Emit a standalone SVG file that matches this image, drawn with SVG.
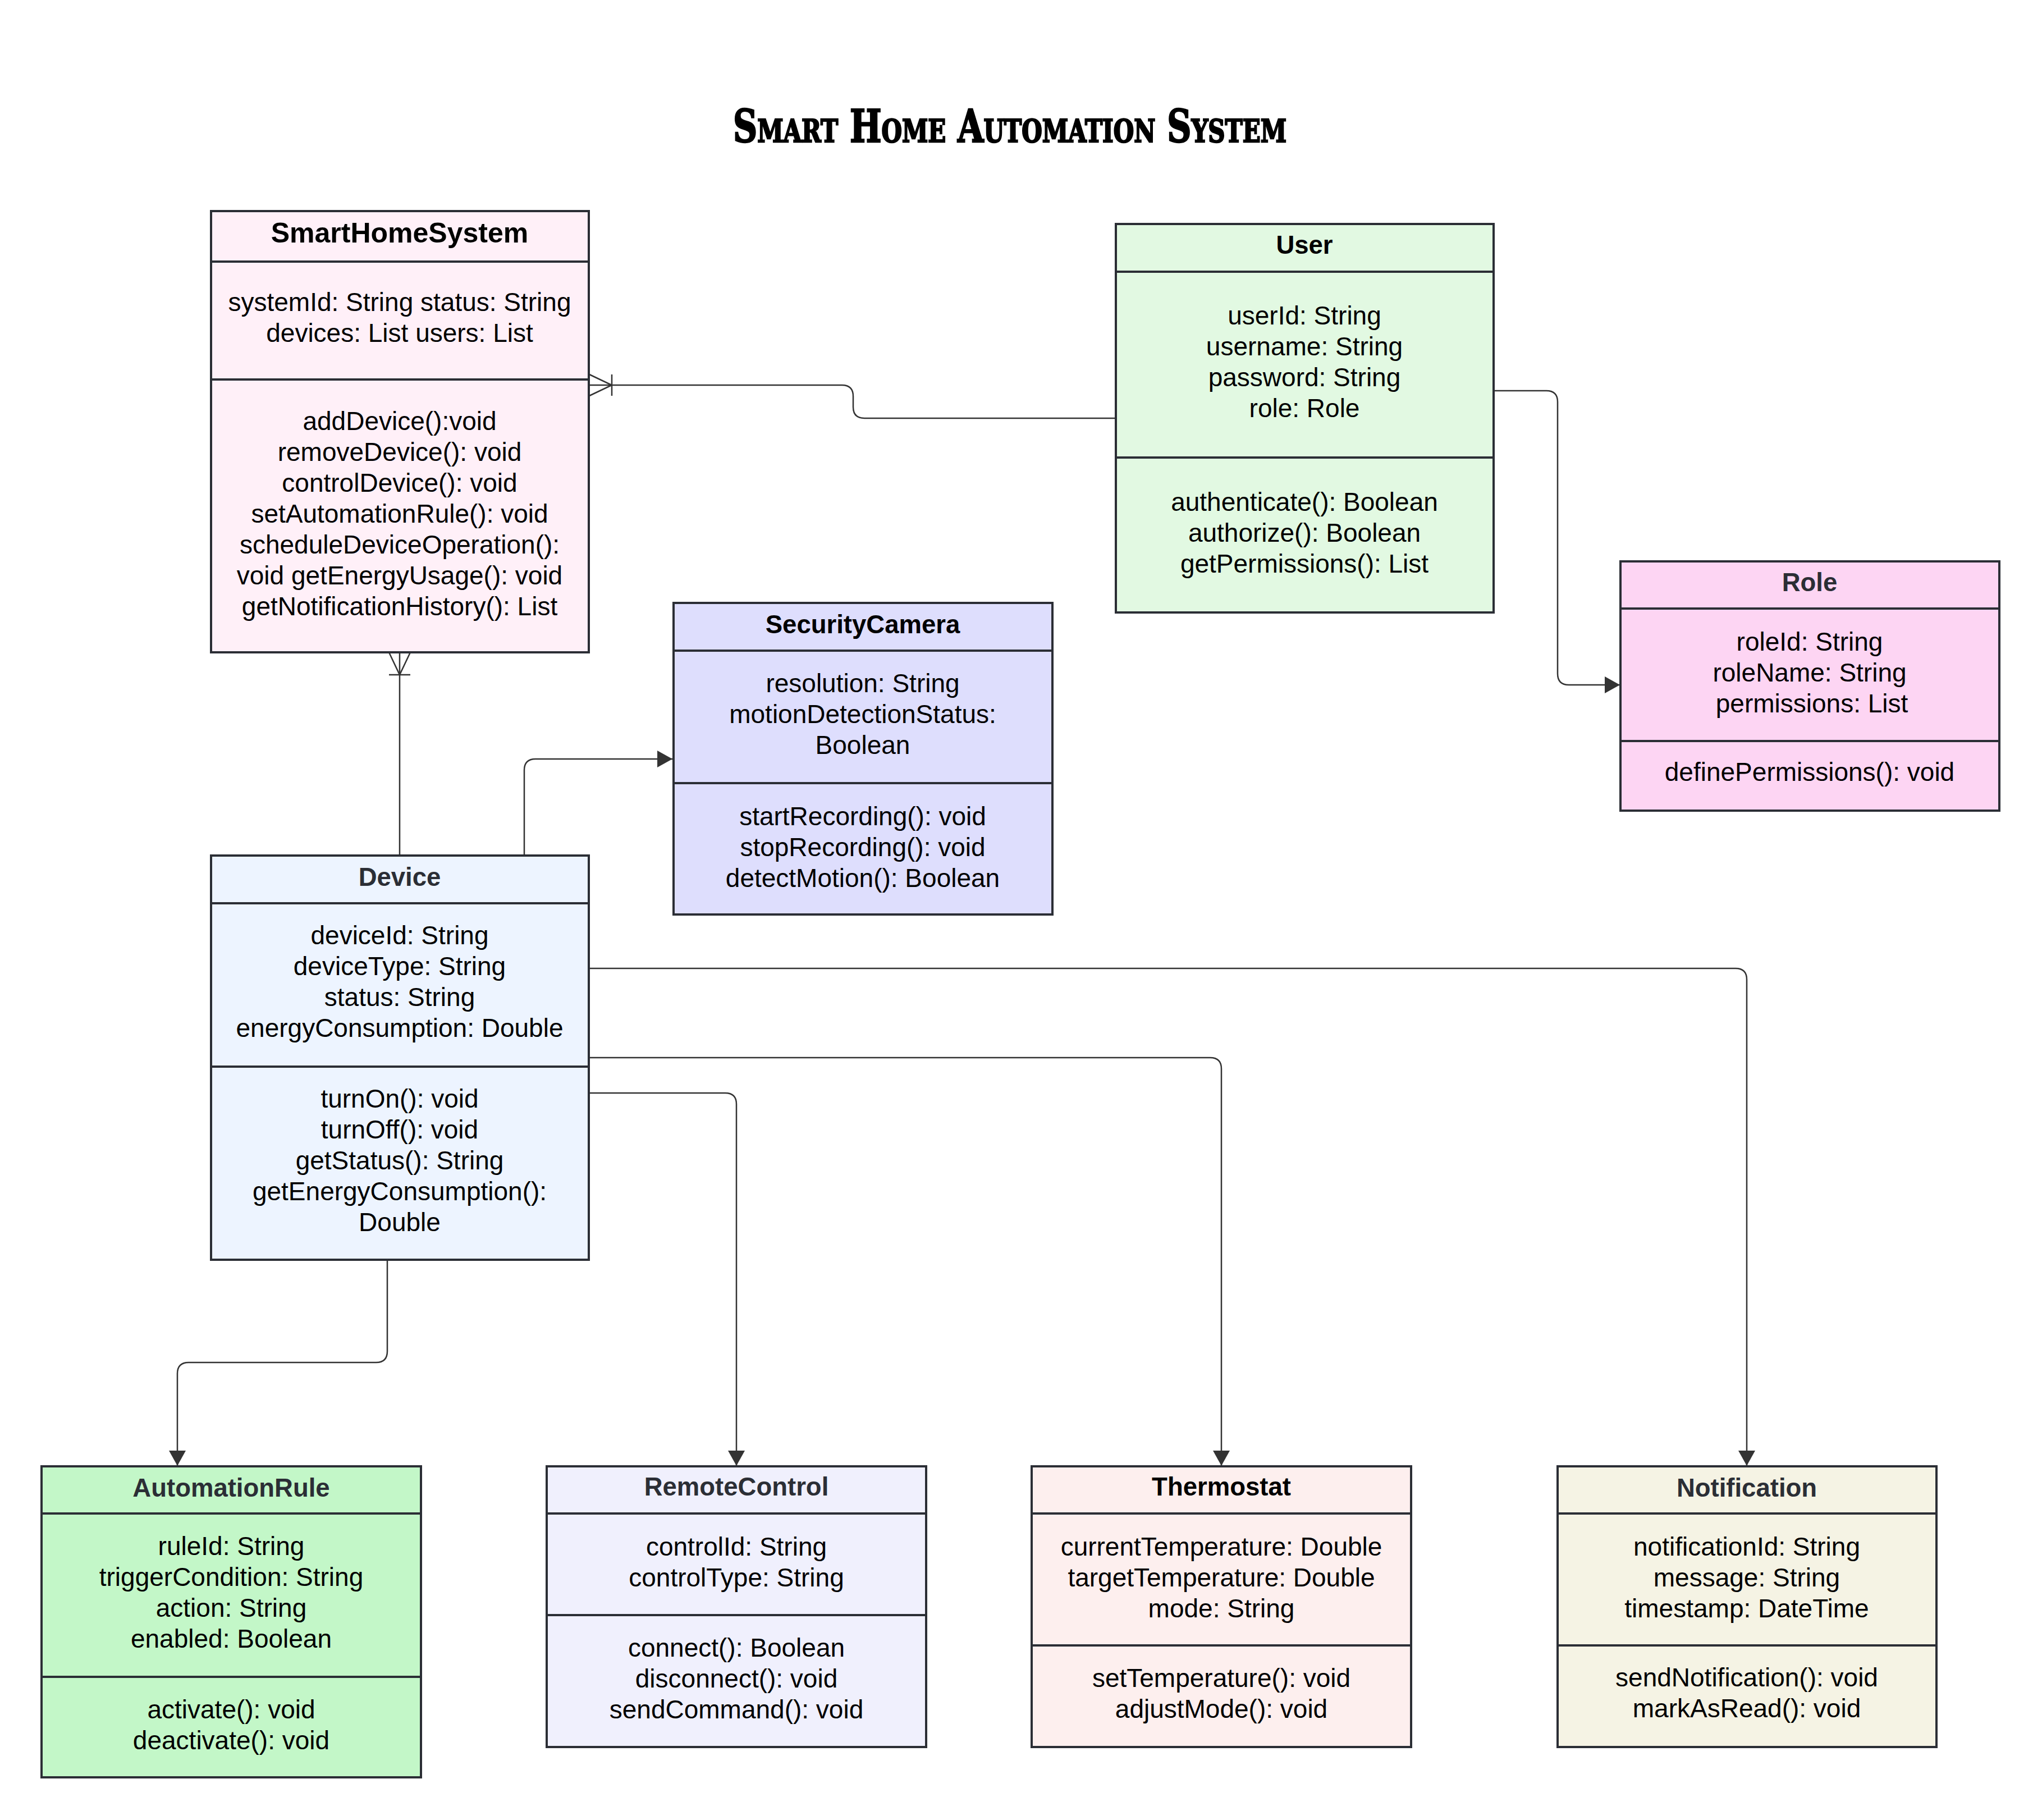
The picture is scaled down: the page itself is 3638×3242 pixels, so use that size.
<svg xmlns="http://www.w3.org/2000/svg" width="3638" height="3242" viewBox="0 0 3638 3242">
<style>
.box{stroke:#2b2e35;stroke-width:4}
.sep{stroke:#2b2e35;stroke-width:4}
.hd{font-family:"Liberation Sans",Arial,sans-serif;font-weight:bold;font-size:45.5px;text-anchor:middle}
.dk{fill:#2b2e35}
.bk{fill:#000}
.big{font-size:50px}
.tx{font-family:"Liberation Sans",Arial,sans-serif;font-size:46px;text-anchor:middle;fill:#000}
.ln{fill:none;stroke:#333;stroke-width:2.5}
.title{font-family:"DejaVu Serif Condensed","DejaVu Serif",serif;font-weight:bold;font-size:80px;font-variant:small-caps;text-anchor:middle;fill:#000;stroke:#000;stroke-width:2.5}
</style>
<defs>
<marker id="arr" markerUnits="userSpaceOnUse" markerWidth="30" markerHeight="32" refX="27" refY="15" orient="auto">
<path d="M0,0 L27,15 L0,30 z" fill="#333"/>
</marker>
</defs>
<rect width="3638" height="3242" fill="#fff"/>
<text class="title" x="1799" y="253" textLength="986" lengthAdjust="spacingAndGlyphs">Smart Home Automation System</text>

<g id="connectors">
<path class="ln" d="M1988,745 H1540 Q1520,745 1520,725 V706 Q1520,686 1500,686 H1050"/>
<path class="ln" d="M1050,667 L1090,686 L1050,705 M1090,667 V705"/>
<path class="ln" d="M712,1162 V1524"/>
<path class="ln" d="M693,1162 L712,1202 L731,1162 M693,1202 H731"/>
<path class="ln" d="M934,1524 V1372 Q934,1352 954,1352 H1198" marker-end="url(#arr)"/>
<path class="ln" d="M2661,696 H2755 Q2775,696 2775,716 V1200 Q2775,1220 2795,1220 H2886" marker-end="url(#arr)"/>
<path class="ln" d="M1050,1725 H3092 Q3112,1725 3112,1745 V2611" marker-end="url(#arr)"/>
<path class="ln" d="M1050,1884 H2156 Q2176,1884 2176,1904 V2611" marker-end="url(#arr)"/>
<path class="ln" d="M1050,1947 H1292 Q1312,1947 1312,1967 V2611" marker-end="url(#arr)"/>
<path class="ln" d="M690,2244 V2407 Q690,2427 670,2427 H336 Q316,2427 316,2447 V2611" marker-end="url(#arr)"/>
</g>

<g id="SmartHomeSystem">
<rect class="box" x="376" y="376" width="673" height="786" fill="#fff0f8"/>
<line class="sep" x1="376" y1="466" x2="1049" y2="466"/>
<line class="sep" x1="376" y1="676" x2="1049" y2="676"/>
<text class="hd bk big" x="712" y="432">SmartHomeSystem</text>
<text class="tx" x="712"><tspan x="712" y="554">systemId: String status: String</tspan><tspan x="712" y="609">devices: List users: List</tspan></text>
<text class="tx" x="712"><tspan x="712" y="766">addDevice():void</tspan><tspan x="712" y="821">removeDevice(): void</tspan><tspan x="712" y="876">controlDevice(): void</tspan><tspan x="712" y="931">setAutomationRule(): void</tspan><tspan x="712" y="986">scheduleDeviceOperation():</tspan><tspan x="712" y="1041">void getEnergyUsage(): void</tspan><tspan x="712" y="1096">getNotificationHistory(): List</tspan></text>
</g>

<g id="User">
<rect class="box" x="1988" y="399" width="673" height="692" fill="#e2f9e2"/>
<line class="sep" x1="1988" y1="484" x2="2661" y2="484"/>
<line class="sep" x1="1988" y1="815" x2="2661" y2="815"/>
<text class="hd bk" x="2324" y="452">User</text>
<text class="tx"><tspan x="2324" y="578">userId: String</tspan><tspan x="2324" y="633">username: String</tspan><tspan x="2324" y="688">password: String</tspan><tspan x="2324" y="743">role: Role</tspan></text>
<text class="tx"><tspan x="2324" y="910">authenticate(): Boolean</tspan><tspan x="2324" y="965">authorize(): Boolean</tspan><tspan x="2324" y="1020">getPermissions(): List</tspan></text>
</g>

<g id="Role">
<rect class="box" x="2887" y="1000" width="675" height="444" fill="#fdd5f3"/>
<line class="sep" x1="2887" y1="1084" x2="3562" y2="1084"/>
<line class="sep" x1="2887" y1="1320" x2="3562" y2="1320"/>
<text class="hd dk" x="3224" y="1053">Role</text>
<text class="tx"><tspan x="3224" y="1159">roleId: String</tspan><tspan x="3224" y="1214">roleName: String</tspan><tspan x="3228" y="1269">permissions: List</tspan></text>
<text class="tx"><tspan x="3224" y="1391">definePermissions(): void</tspan></text>
</g>

<g id="SecurityCamera">
<rect class="box" x="1200" y="1074" width="675" height="555" fill="#dedefd"/>
<line class="sep" x1="1200" y1="1159" x2="1875" y2="1159"/>
<line class="sep" x1="1200" y1="1395" x2="1875" y2="1395"/>
<text class="hd bk" x="1537" y="1128">SecurityCamera</text>
<text class="tx"><tspan x="1537" y="1233">resolution: String</tspan><tspan x="1537" y="1288">motionDetectionStatus:</tspan><tspan x="1537" y="1343">Boolean</tspan></text>
<text class="tx"><tspan x="1537" y="1470">startRecording(): void</tspan><tspan x="1537" y="1525">stopRecording(): void</tspan><tspan x="1537" y="1580">detectMotion(): Boolean</tspan></text>
</g>

<g id="Device">
<rect class="box" x="376" y="1524" width="673" height="720" fill="#edf4ff"/>
<line class="sep" x1="376" y1="1609" x2="1049" y2="1609"/>
<line class="sep" x1="376" y1="1900" x2="1049" y2="1900"/>
<text class="hd dk" x="712" y="1578">Device</text>
<text class="tx"><tspan x="712" y="1682">deviceId: String</tspan><tspan x="712" y="1737">deviceType: String</tspan><tspan x="712" y="1792">status: String</tspan><tspan x="712" y="1847">energyConsumption: Double</tspan></text>
<text class="tx"><tspan x="712" y="1973">turnOn(): void</tspan><tspan x="712" y="2028">turnOff(): void</tspan><tspan x="712" y="2083">getStatus(): String</tspan><tspan x="712" y="2138">getEnergyConsumption():</tspan><tspan x="712" y="2193">Double</tspan></text>
</g>

<g id="AutomationRule">
<rect class="box" x="74" y="2612" width="676" height="554" fill="#c3f7c8"/>
<line class="sep" x1="74" y1="2696" x2="750" y2="2696"/>
<line class="sep" x1="74" y1="2987" x2="750" y2="2987"/>
<text class="hd dk" x="412" y="2666">AutomationRule</text>
<text class="tx"><tspan x="412" y="2770">ruleId: String</tspan><tspan x="412" y="2825">triggerCondition: String</tspan><tspan x="412" y="2880">action: String</tspan><tspan x="412" y="2935">enabled: Boolean</tspan></text>
<text class="tx"><tspan x="412" y="3061">activate(): void</tspan><tspan x="412" y="3116">deactivate(): void</tspan></text>
</g>

<g id="RemoteControl">
<rect class="box" x="974" y="2612" width="676" height="500" fill="#f0f0fd"/>
<line class="sep" x1="974" y1="2696" x2="1650" y2="2696"/>
<line class="sep" x1="974" y1="2877" x2="1650" y2="2877"/>
<text class="hd dk" x="1312" y="2664">RemoteControl</text>
<text class="tx"><tspan x="1312" y="2771">controlId: String</tspan><tspan x="1312" y="2826">controlType: String</tspan></text>
<text class="tx"><tspan x="1312" y="2951">connect(): Boolean</tspan><tspan x="1312" y="3006">disconnect(): void</tspan><tspan x="1312" y="3061">sendCommand(): void</tspan></text>
</g>

<g id="Thermostat">
<rect class="box" x="1838" y="2612" width="676" height="500" fill="#fdefee"/>
<line class="sep" x1="1838" y1="2696" x2="2514" y2="2696"/>
<line class="sep" x1="1838" y1="2931" x2="2514" y2="2931"/>
<text class="hd bk" x="2176" y="2664">Thermostat</text>
<text class="tx"><tspan x="2176" y="2771">currentTemperature: Double</tspan><tspan x="2176" y="2826">targetTemperature: Double</tspan><tspan x="2176" y="2881">mode: String</tspan></text>
<text class="tx"><tspan x="2176" y="3005">setTemperature(): void</tspan><tspan x="2176" y="3060">adjustMode(): void</tspan></text>
</g>

<g id="Notification">
<rect class="box" x="2775" y="2612" width="675" height="500" fill="#f5f3e4"/>
<line class="sep" x1="2775" y1="2696" x2="3450" y2="2696"/>
<line class="sep" x1="2775" y1="2931" x2="3450" y2="2931"/>
<text class="hd dk" x="3112" y="2666">Notification</text>
<text class="tx"><tspan x="3112" y="2771">notificationId: String</tspan><tspan x="3112" y="2826">message: String</tspan><tspan x="3112" y="2881">timestamp: DateTime</tspan></text>
<text class="tx"><tspan x="3112" y="3004">sendNotification(): void</tspan><tspan x="3112" y="3059">markAsRead(): void</tspan></text>
</g>
</svg>
